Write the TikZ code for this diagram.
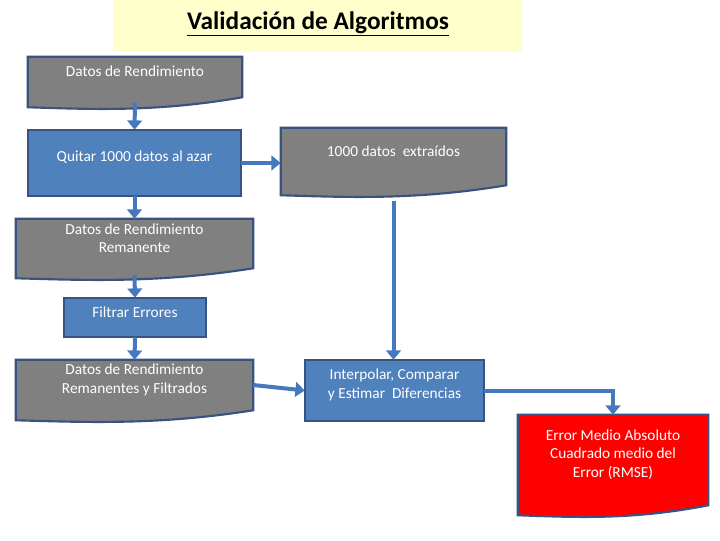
\documentclass[tikz,border=0pt]{standalone}
\usepackage{fontspec}
\setmainfont{Carlito}
\usetikzlibrary{fit,calc,backgrounds,arrows.meta}
\definecolor{bfill}{RGB}{79,129,189}
\definecolor{gfill}{RGB}{128,128,128}
\definecolor{bord}{RGB}{56,83,128}
\definecolor{arr}{RGB}{70,120,190}
\definecolor{ttl}{RGB}{255,255,204}
\newcommand\mydoc[2]{\draw[bd,fill=#2] (#1.north west) -- (#1.north east) -- (#1.south east)
  .. controls ($(#1.south west)!0.6!(#1.south east)+(0,-15)$) and ($(#1.south west)!0.3!(#1.south east)+(0,-12)$) .. ($(#1.south west)+(0,-10)$) -- cycle;}
\begin{document}
\begin{tikzpicture}[x=0.75pt,y=0.75pt,
  bx/.style={inner sep=0pt,align=center,text=white,font=\fontsize{11.5}{14}\selectfont},
  bd/.style={draw=bord,line width=1.6pt},
  ar/.style={draw=arr,line width=3pt,-{Triangle[length=7pt,width=11pt]}}]
\useasboundingbox (0,0) rectangle (720,-540);
\fill[ttl] (113,0) rectangle (522,-52);
\node[font=\fontsize{19}{22}\selectfont\bfseries] (title) at (318,-24) {\underline{Validación de Algoritmos}};
\node[bx,fit={(28,-57) (242,-97)}] (d1) {Datos de Rendimiento};
\node[bx,fit={(28,-130) (241,-196)}] (q) {Quitar 1000 datos al azar};
\node[bx,fit={(281,-128) (506,-185)}] (d2) {1000 datos\ \ extraídos};
\node[bx,fit={(16,-219) (253,-268)}] (d3) {Datos de Rendimiento\\Remanente};
\node[bx,fit={(64,-298) (206,-337)}] (f) {Filtrar Errores};
\node[bx,fit={(16,-360) (253,-410)}] (d4) {Datos de Rendimiento\\Remanentes y Filtrados};
\node[bx,fit={(305,-360) (484,-421)}] (ip) {Interpolar, Comparar\\y Estimar\ \ Diferencias};
\node[bx,fit={(518,-415) (708,-505)}] (r) {Error Medio Absoluto\\Cuadrado medio del\\Error (RMSE)};
\begin{scope}[on background layer]
\mydoc{d1}{gfill}\mydoc{d2}{gfill}\mydoc{d3}{gfill}\mydoc{d4}{gfill}\mydoc{r}{red}
\draw[bd,fill=bfill] (q.south west) rectangle (q.north east);
\draw[bd,fill=bfill] (f.south west) rectangle (f.north east);
\draw[bd,fill=bfill] (ip.south west) rectangle (ip.north east);
\end{scope}
\draw[ar] ([yshift=-4]d1.south) -- (q.north);
\draw[ar] (q.east) -- (d2.west |- q.east);
\draw[ar] (q.south) -- (d3.north);
\draw[ar] ([yshift=-5]d3.south) -- (f.north);
\draw[ar] (f.south) -- (d4.north);
\draw[ar] ([yshift=-12]d2.south) -- (d2.south |- ip.north);
\draw[ar] (d4.east) -- (ip.west);
\draw[ar] (ip.east) -| (r.north);
\end{tikzpicture}
\end{document}
